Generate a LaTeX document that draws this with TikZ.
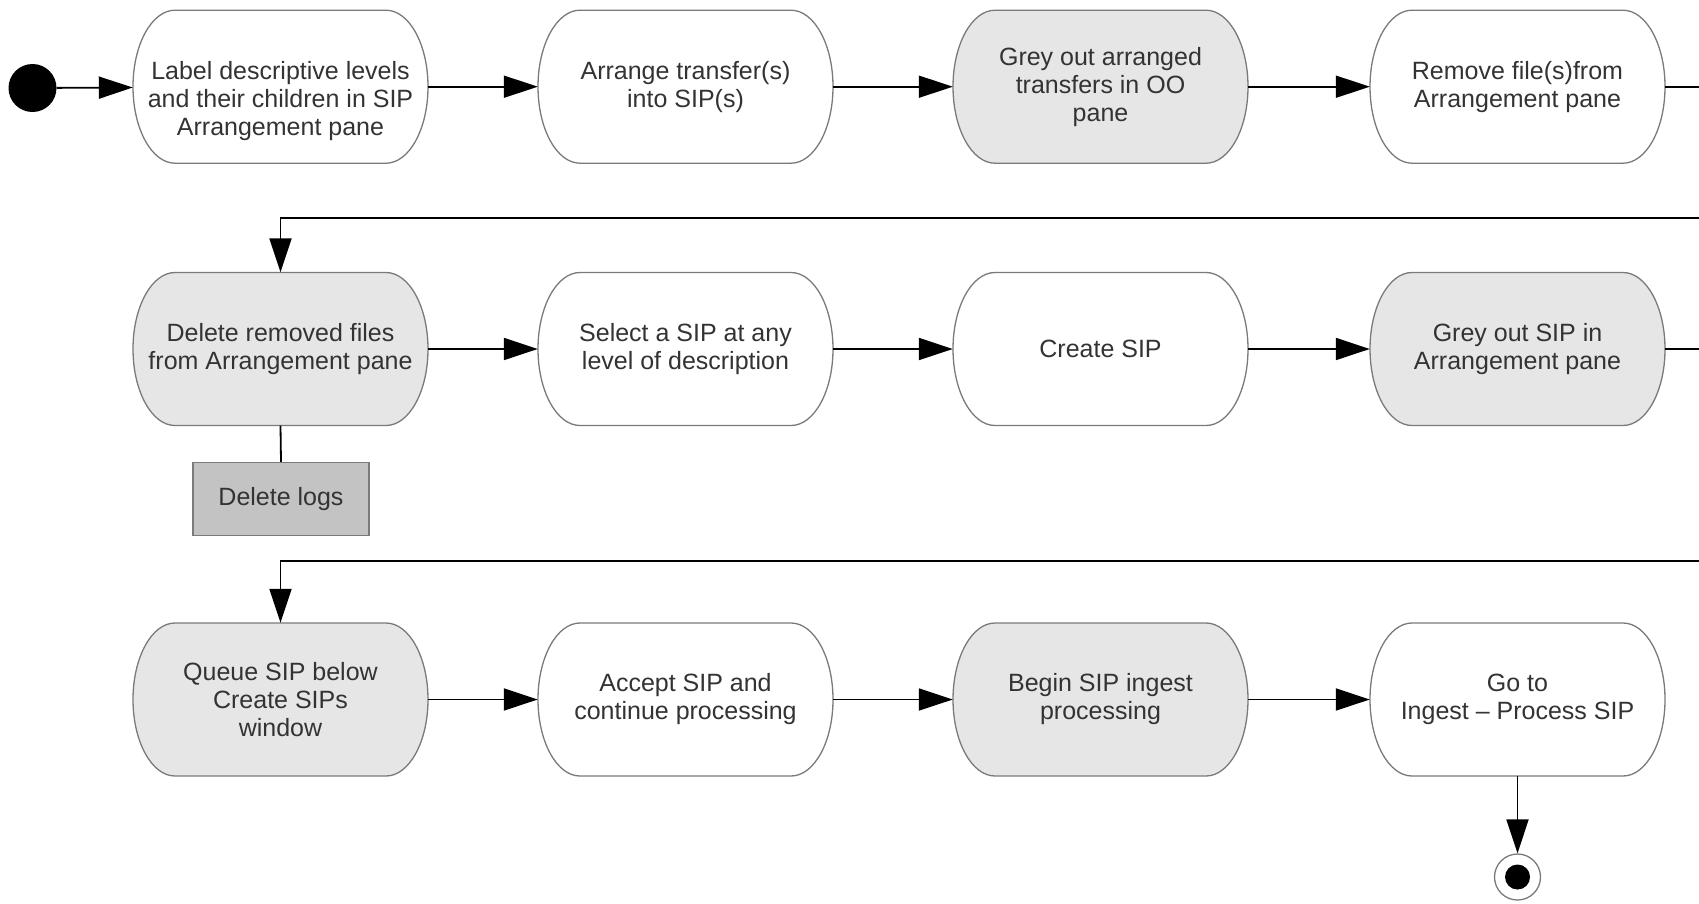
\documentclass[tikz,border=0pt]{standalone}
\usepackage{fontspec}
\setmainfont{Liberation Sans}
\usetikzlibrary{arrows.meta}

\definecolor{ink}{HTML}{333333}
\definecolor{rim}{HTML}{7A7A7A}
\definecolor{shade}{HTML}{E6E6E6}
\definecolor{logfill}{HTML}{C3C3C3}

\tikzset{
  actbox/.style={minimum width=295pt, minimum height=153pt, inner sep=0pt,
    align=center, text=ink, font=\fontsize{25}{28}\selectfont},
  actrim/.style={draw=rim, line width=1.3pt},
  flow/.style={line width=1.8pt, -{Triangle[length=34pt,width=22pt]}},
  link/.style={line width=1.8pt},
  logbox/.style={draw=rim, line width=1.3pt, fill=logfill, minimum width=176pt,
    minimum height=73pt, inner sep=0pt, text=ink, font=\fontsize{25}{28}\selectfont},
}

% activity state: a box with elliptical ends, text centred on it
\newcommand\actstate[5]{%
  \begin{scope}[shift={(#2,-#3)}]
    \draw[actrim, fill=#4] (-105.5,76.5) -- (105.5,76.5)
      arc[start angle=90, end angle=-90, x radius=42pt, y radius=76.5pt]
      -- (-105.5,-76.5)
      arc[start angle=270, end angle=90, x radius=42pt, y radius=76.5pt] -- cycle;
    \node[actbox] (#1) at (0,0) {#5};
  \end{scope}}

\begin{document}
\begin{tikzpicture}[x=1pt, y=1pt]
\useasboundingbox (0,0) rectangle (1699,-903);
\clip (0,0) rectangle (1699,-903);

% initial state
\node[circle, fill=black, minimum size=48pt, inner sep=0pt] (start) at (32.5,-88) {};

% first row
\actstate{n1}{280.5}{86.7}{white}{\strut\\Label descriptive levels\\and their children in SIP\\Arrangement pane}
\actstate{n2}{685.5}{86.7}{white}{Arrange transfer(s)\\into SIP(s)}
\actstate{n3}{1100.5}{86.7}{shade}{Grey out arranged\\transfers in OO\\pane}
\actstate{n4}{1517.5}{86.7}{white}{Remove file(s)from\\Arrangement pane}

% second row
\actstate{n5}{280.5}{349}{shade}{Delete removed files\\from Arrangement pane}
\actstate{n6}{685.5}{349}{white}{Select a SIP at any\\level of description}
\actstate{n7}{1100.5}{349}{white}{Create SIP}
\actstate{n8}{1517.5}{349}{shade}{Grey out SIP in\\Arrangement pane}

\node[logbox] (logs) at (281,-499) {Delete logs};

% third row
\actstate{n9}{280.5}{699.5}{shade}{Queue SIP below\\Create SIPs\\window}
\actstate{n10}{685.5}{699.5}{white}{Accept SIP and\\continue processing}
\actstate{n11}{1100.5}{699.5}{shade}{Begin SIP ingest\\processing}
\actstate{n12}{1517.5}{699.5}{white}{Go to\\Ingest – Process SIP}

% final state
\node[circle, draw=rim, line width=1.3pt, fill=white, minimum size=46pt, inner sep=0pt] (stop) at (1517.5,-877) {};
\fill[black] (stop.center) circle[radius=12.5pt];

% transitions
\draw[flow] (start) -- (n1);
\draw[flow] (n1) -- (n2);
\draw[flow] (n2) -- (n3);
\draw[flow] (n3) -- (n4);
\draw[flow] (n4.east) -- (1740,-86.7) -- (1740,-218) -| (n5.north);
\draw[flow] (n5) -- (n6);
\draw[flow] (n6) -- (n7);
\draw[flow] (n7) -- (n8);
\draw[link] (n5.south) -- (logs.north);
\draw[flow] (n8.east) -- (1740,-349) -- (1740,-561) -| (n9.north);
\draw[flow] (n9) -- (n10);
\draw[flow] (n10) -- (n11);
\draw[flow] (n11) -- (n12);
\draw[flow] (n12.south) -- (stop);
\end{tikzpicture}
\end{document}
